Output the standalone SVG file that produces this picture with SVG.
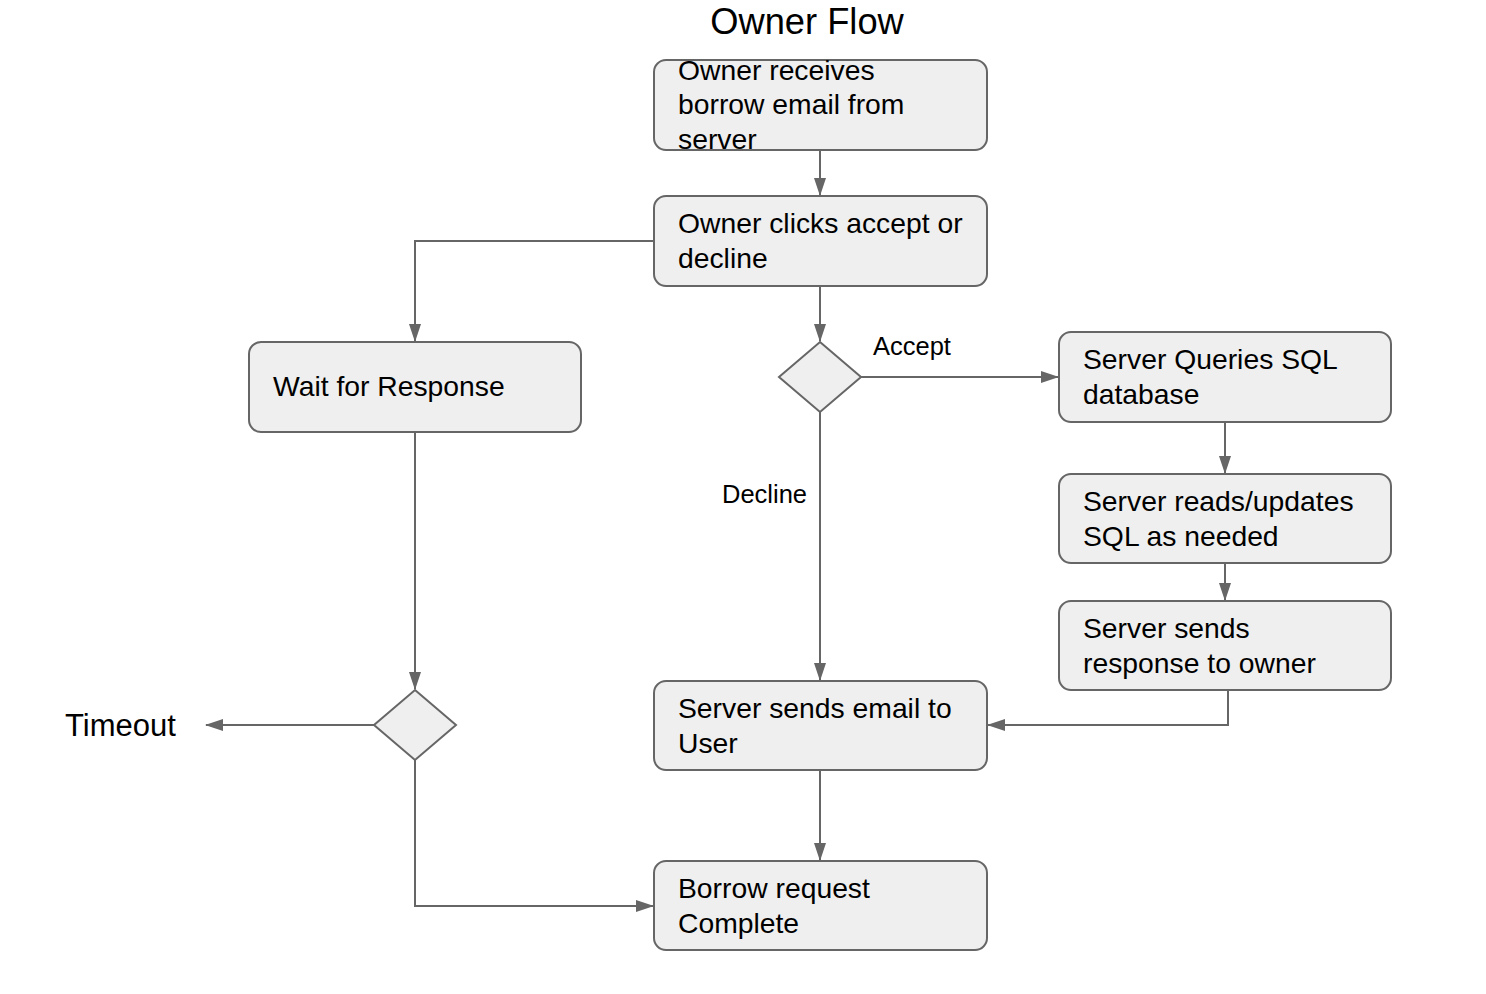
<svg xmlns="http://www.w3.org/2000/svg" width="1486" height="994" viewBox="0 0 1486 994">
<style>
.box{fill:#efefef;stroke:#666;stroke-width:2}
.t{font-family:"Liberation Sans",Arial,sans-serif;font-size:28.3px;fill:#000}
.lbl{font-family:"Liberation Sans",Arial,sans-serif;font-size:25.5px;fill:#000}
.c{fill:none;stroke:#666;stroke-width:2;marker-end:url(#ah)}
</style>
<defs>
<marker id="ah" markerWidth="18" markerHeight="14" refX="17" refY="7" orient="auto" markerUnits="userSpaceOnUse">
<path d="M0,1 L18,7 L0,13 Z" fill="#666"/>
</marker>
</defs>
<rect width="1486" height="994" fill="#fff"/>
<text x="807" y="34" text-anchor="middle" class="t" style="font-size:36.3px">Owner Flow</text>
<g id="connectors">
<path class="c" d="M820,150 V195"/>
<path class="c" d="M654,241 H415 V341"/>
<path class="c" d="M820,286 V341"/>
<path class="c" d="M861,377 H1058"/>
<path class="c" d="M820,412 V680"/>
<path class="c" d="M1225,422 V473"/>
<path class="c" d="M1225,563 V600"/>
<path class="c" d="M1228,690 V725 H988"/>
<path class="c" d="M820,770 V860"/>
<path class="c" d="M415,432 V689"/>
<path class="c" d="M374,725 H206"/>
<path class="c" d="M415,760 V906 H653"/>
<text x="873" y="355" class="lbl">Accept</text>
<text x="722" y="503" class="lbl">Decline</text>
</g>
<g id="n1"><rect class="box" x="654" y="60" width="333" height="90" rx="12"/>
<text class="t" x="678" y="80">Owner receives</text><text class="t" x="678" y="114">borrow email from</text><text class="t" x="678" y="149">server</text></g>
<g id="n2"><rect class="box" x="654" y="196" width="333" height="90" rx="12"/>
<text class="t" x="678" y="233">Owner clicks accept or</text><text class="t" x="678" y="268">decline</text></g>
<g id="n3"><rect class="box" x="249" y="342" width="332" height="90" rx="12"/>
<text class="t" x="273" y="396">Wait for Response</text></g>
<g id="d1"><polygon class="box" points="820,342 861,377 820,412 779,377"/></g>
<g id="n4"><rect class="box" x="1059" y="332" width="332" height="90" rx="12"/>
<text class="t" x="1083" y="369">Server Queries SQL</text><text class="t" x="1083" y="404">database</text></g>
<g id="n5"><rect class="box" x="1059" y="474" width="332" height="89" rx="12"/>
<text class="t" x="1083" y="511">Server reads/updates</text><text class="t" x="1083" y="546">SQL as needed</text></g>
<g id="n6"><rect class="box" x="1059" y="601" width="332" height="89" rx="12"/>
<text class="t" x="1083" y="638">Server sends</text><text class="t" x="1083" y="673">response to owner</text></g>
<g id="n7"><rect class="box" x="654" y="681" width="333" height="89" rx="12"/>
<text class="t" x="678" y="718">Server sends email to</text><text class="t" x="678" y="753">User</text></g>
<g id="n8"><rect class="box" x="654" y="861" width="333" height="89" rx="12"/>
<text class="t" x="678" y="898">Borrow request</text><text class="t" x="678" y="933">Complete</text></g>
<g id="d2"><polygon class="box" points="415,690 456,725 415,760 374,725"/></g>
<g id="timeout"><text x="65" y="736" class="t" style="font-size:31px">Timeout</text></g>
</svg>
